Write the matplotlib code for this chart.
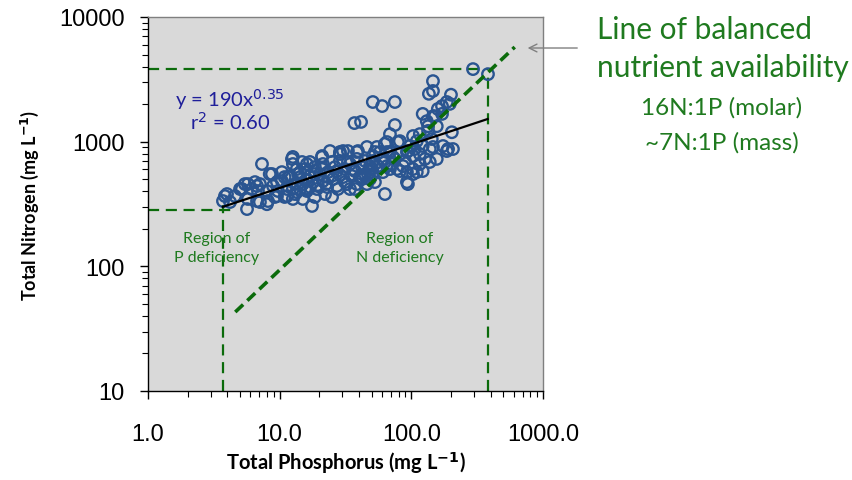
import matplotlib
matplotlib.use("Agg")
import matplotlib.pyplot as plt
from matplotlib.ticker import FixedLocator, LogLocator, NullFormatter

# ---------------- data ----------------
tp = [294, 382, 146, 146, 136, 200, 51, 60, 75, 186, 171, 159, 122, 37, 41.5, 75, 131, 146, 134, 196, 151, 171,
      68.8, 65.3, 54.8, 81.9, 103, 116, 134, 143, 156, 203, 110, 97.5, 122, 138, 146, 174, 190, 207,
      51.1, 57.8, 65.3, 72.5, 81.9, 92.6, 103, 116, 127, 156, 186, 50.2, 55.7, 63.0, 71.2, 86.3, 103, 116, 138,
      122, 92.6, 103, 51.1, 60.8, 52.9, 94.2, 63.0, 81.9,
      24.1, 28.7, 33.0, 39.3, 46.0, 52.9, 21.0, 17.0, 12.6, 14.8, 13.5, 15.6, 18.5, 21.3, 25.0, 28.7, 33.0, 38.6,
      44.5, 51.1, 12.0, 14.3, 17.0, 20.2, 23.3, 27.2, 31.3, 36.0, 42.2, 48.5, 13.1, 15.0, 17.9, 21.3, 25.4, 30.3,
      35.4, 40.7, 46.8, 13.5, 16.1, 19.2, 22.9, 27.2, 32.4, 38.6, 12.6, 15.0, 18.5, 22.1, 25.0, 17.6, 34.2, 46.0,
      7.34, 8.74, 10.4, 12.4, 12.6, 6.49, 5.45, 5.17, 6.16, 7.08, 6.84, 8.01, 8.90, 9.54, 10.4, 11.6, 9.71, 11.4,
      11.4, 12.6, 3.84, 4.58, 4.20, 3.71, 5.74, 6.73, 5.65, 7.08, 8.15, 9.54,
      13.8, 15.8, 19.5, 23.3, 27.7, 31.3, 37.3, 42.2, 50.2, 14.3, 17.0, 21.0, 26.3, 34.2, 44.5, 18.5, 22.5, 28.7,
      37.3, 48.5, 75.0, 89.4, 106, 60.8, 68.8,
      3.98, 5.0, 5.74, 6.73, 8.0, 9.2, 10.9, 13.1, 15.6, 10.9, 14.3, 16.1, 18.5, 8.4, 21.0, 28.7,
      63.0, 79.0, 94.0, 68.8, 38.6, 30.3, 78.0, 65.3, 48.5, 42.2, 92.6, 110]
tn = [3820, 3480, 3060, 2550, 2420, 2380, 2080, 1930, 2080, 2080, 1930, 1830, 1670, 1410, 1440, 1360, 1460, 1600,
      1330, 2010, 1600, 1670,
      1150, 993, 906, 1010, 1110, 1150, 1220, 1050, 1330, 1190, 1010, 923, 923, 873, 906, 923, 873, 873,
      767, 826, 826, 754, 796, 826, 767, 796, 727, 727, 841, 662, 637, 687, 662, 637, 603, 662, 687,
      581, 570, 550, 550, 570, 474, 457, 380, 581,
      841, 826, 841, 841, 906, 826, 767, 687, 754, 687, 603, 603, 625, 662, 687, 700, 687, 727,
      700, 700, 530, 520, 530, 550, 570, 581, 603, 603, 625, 637, 457, 457, 474, 483, 501, 520,
      530, 520, 550, 394, 402, 417, 433, 441, 457, 457, 347, 347, 360, 380, 360, 305, 417, 457,
      662, 550, 570, 727, 662, 474, 457, 417, 417, 457, 402, 402, 441, 474, 483, 520, 402, 417,
      366, 417, 366, 366, 328, 334, 347, 334, 288, 328, 334, 366,
      550, 492, 449, 520, 417, 474, 581, 501, 603, 417, 433, 603, 625, 662, 550, 550, 457, 540,
      417, 501, 727, 700, 873, 727, 603,
      380, 417, 457, 441, 315, 360, 360, 380, 417, 520, 570, 662, 581, 550, 754, 796,
      960, 993, 841, 826, 826, 841, 603, 637, 603, 520, 474, 570]

fit_tp = [3.7, 380]          # y = 190 x^0.35
fit_tn = [300, 1520]
balanced_tp = [4.6, 610]     # line of balanced nutrient availability
balanced_tn = [43, 5740]
box_tp_max = 382             # upper-right corner of data envelope
box_tn_max = 3820
box_tp_min = 3.7             # lower-left corner
box_tn_min = 283
box_low_h_end = 4.6

x_ticks = [1, 10, 100, 1000]
x_tick_labels = ["1.0", "10.0", "100.0", "1000.0"]
y_ticks = [10, 100, 1000, 10000]
y_tick_labels = ["10", "100", "1000", "10000"]

# ---------------- figure ----------------
W, H = 853, 481
fig = plt.figure(figsize=(W / 100, H / 100), dpi=100)
ax = fig.add_axes([148 / W, 1 - 392 / H, 395 / W, 374 / H])
ax.set_facecolor("#d9d9d9")
ax.set_xscale("log")
ax.set_yscale("log")
ax.set_xlim(1, 1000)
ax.set_ylim(10, 10000)

green_line = "#0b6b0b"
green_text = "#1f7a1f"
navy = "#1f1f9a"

# dashed envelope lines
dash_kw = dict(color=green_line, lw=1.6, dashes=(5, 3), zorder=2)
ax.plot([1, box_tp_max], [box_tn_max, box_tn_max], **dash_kw)
ax.plot([box_tp_max, box_tp_max], [10, box_tn_max * 0.91], **dash_kw)
ax.plot([1, box_low_h_end], [box_tn_min, box_tn_min], **dash_kw)
ax.plot([box_tp_min, box_tp_min], [10, box_tn_min * 1.1], **dash_kw)

# scatter
ax.scatter(tp, tn, s=68, facecolors="none", edgecolors="#2a5591", linewidths=1.7, zorder=3)

# balanced line
ax.plot(balanced_tp, balanced_tn, color=green_line, lw=2.6, dashes=(3, 1.6), zorder=4)

# regression line
ax.plot(fit_tp, fit_tn, color="black", lw=1.6, zorder=5)

# ticks
ax.xaxis.set_major_locator(FixedLocator(x_ticks))
ax.set_xticklabels(x_tick_labels)
ax.yaxis.set_major_locator(FixedLocator(y_ticks))
ax.set_yticklabels(y_tick_labels)
ax.xaxis.set_minor_locator(LogLocator(base=10, subs=range(2, 10)))
ax.yaxis.set_minor_locator(LogLocator(base=10, subs=range(2, 10)))
ax.xaxis.set_minor_formatter(NullFormatter())
ax.yaxis.set_minor_formatter(NullFormatter())
ax.tick_params(which="major", direction="out", length=6, width=1, color="black",
               labelsize=17, labelfontfamily="Liberation Sans")
ax.tick_params(which="minor", direction="out", length=4, width=0.8, color="black")
ax.tick_params(axis="x", which="major", pad=17)
ax.tick_params(axis="y", which="major", pad=11)
for s in ["left", "bottom"]:
    ax.spines[s].set_color("black")
    ax.spines[s].set_linewidth(1.0)
for s in ["top", "right"]:
    ax.spines[s].set_color("#7f7f7f")
    ax.spines[s].set_linewidth(1.0)

ax.set_xlabel("Total Phosphorus (mg L$^{\\mathbf{-1}}$)", fontsize=14.5, fontweight="bold",
              family="Lato", labelpad=3)
ax.set_ylabel("Total Nitrogen (mg L$^{\\mathbf{-1}}$)", fontsize=13, fontweight="bold",
              family="Lato", labelpad=13)

# annotations in axes
ax.text(1.6, 2200, "y = 190x$^{0.35}$", color=navy, fontsize=14.5, family="Lato", va="center")
ax.text(2.1, 1460, "r$^{2}$ = 0.60", color=navy, fontsize=14.5, family="Lato", va="center")
ax.text(3.3, 141, "Region of\nP deficiency", color=green_text, fontsize=11.5, family="Lato",
        ha="center", va="center", linespacing=1.45)
ax.text(82, 141, "Region of\nN deficiency", color=green_text, fontsize=11.5, family="Lato",
        ha="center", va="center", linespacing=1.45)

# arrow pointing at balanced line
ax.annotate("", xy=(728, 5640), xytext=(1910, 5640), xycoords="data", textcoords="data",
            annotation_clip=False,
            arrowprops=dict(arrowstyle="->", color="#808080", lw=1.0, mutation_scale=14))

fig.text(597 / W, 1 - 30 / H, "Line of balanced", color=green_text, fontsize=21.5,
         family="Lato", va="center", ha="left")
fig.text(597 / W, 1 - 68 / H, "nutrient availability", color=green_text, fontsize=21.5,
         family="Lato", va="center", ha="left")
fig.text(722 / W, 1 - 108 / H, "16N:1P (molar)", color=green_text, fontsize=17.5,
         family="Lato", va="center", ha="center")
fig.text(722 / W, 1 - 143 / H, "~7N:1P (mass)", color=green_text, fontsize=17.5,
         family="Lato", va="center", ha="center")

fig.savefig("out.png", dpi=100)
